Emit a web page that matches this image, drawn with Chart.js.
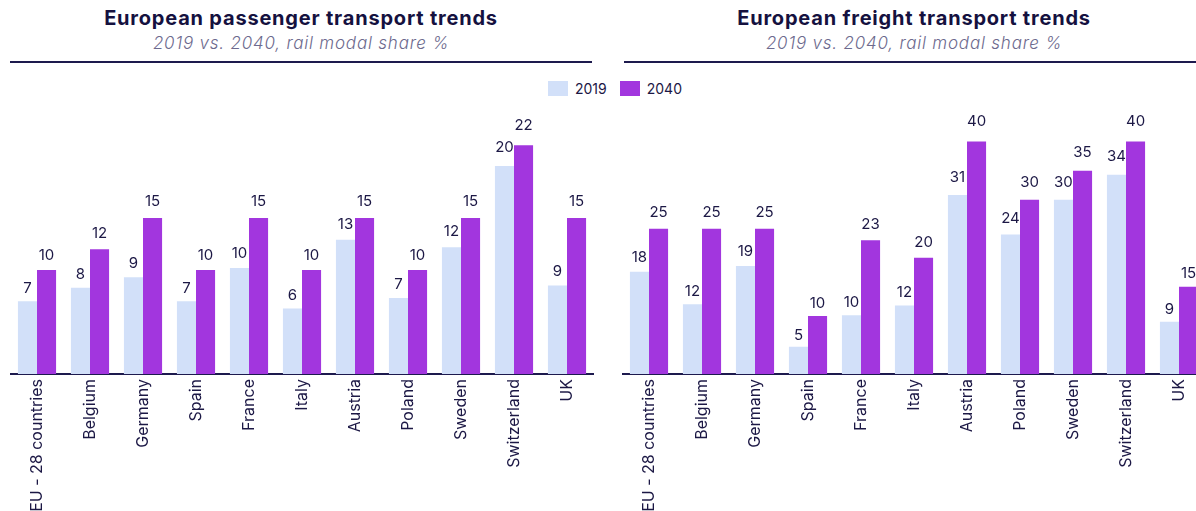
<!DOCTYPE html>
<html lang="en">
  <head>
    <meta charset="UTF-8" />
    <title>rail modal share</title>
    <script src="https://cdn.jsdelivr.net/npm/chart.js@4.4.0/dist/chart.umd.min.js"></script>
    <style>
      html, body { margin: 0; padding: 0; background: #fff; }
      #page { position: relative; width: 1196px; height: 511px; overflow: hidden; font-family: Inter, sans-serif; }
      .head { position: absolute; top: 5px; text-align: center; }
      .head h2 { margin: 0; font-size: 20px; font-weight: 700; color: #15113f; line-height: 27px; letter-spacing: 0.8px; }
      .head p { margin: 0; font-size: 17px; font-style: italic; font-weight: 300; color: #6d6a8e; line-height: 22px; letter-spacing: 0.8px; }
      .rule { position: absolute; top: 61px; height: 2px; background: #1d1a4e; }
      .legend { position: absolute; top: 80px; left: 548px; display: flex; align-items: center; font-size: 14px; color: #1c1845; }
      .legend span.box { display: inline-block; width: 20px; height: 15px; margin-right: 7px; }
      .legend span.item { display: flex; align-items: center; margin-right: 13px; }
      .chart-box { position: absolute; top: 0; width: 600px; height: 511px; }
    </style>
  </head>
  <body>
    <div id="page">
      <div class="head" style="left:10px;width:582px">
        <h2>European passenger transport trends</h2>
        <p>2019 vs. 2040, rail modal share %</p>
      </div>
      <div class="head" style="left:622px;width:584px">
        <h2>European freight transport trends</h2>
        <p>2019 vs. 2040, rail modal share %</p>
      </div>
      <div class="rule" style="left:10px;width:582px"></div>
      <div class="rule" style="left:624px;width:572px"></div>
      <div class="legend" id="legend"></div>
      <div class="chart-box" style="left:0"><canvas id="passenger"></canvas></div>
      <div class="chart-box" style="left:612px"><canvas id="freight"></canvas></div>
    </div>

    <script>
      //data
      const categories = ['EU - 28 countries', 'Belgium', 'Germany', 'Spain', 'France', 'Italy', 'Austria', 'Poland', 'Sweden', 'Switzerland', 'UK'];
      const seriesNames = ['2019', '2040'];
      const passenger2019 = [7, 8.3, 9.3, 7, 10.2, 6.3, 12.9, 7.3, 12.2, 20, 8.5];
      const passenger2040 = [10, 12, 15, 10, 15, 10, 15, 10, 15, 22, 15];
      const freight2019 = [17.6, 12, 18.6, 4.7, 10.1, 11.8, 30.8, 24, 30, 34.3, 9];
      const freight2040 = [25, 25, 25, 10, 23, 20, 40, 30, 35, 40, 15];

      const COLORS = ['#d2e0f9', '#a236de'];
      const INK = '#1c1845';

      //legend
      const legendEl = document.getElementById('legend');
      seriesNames.forEach(function (name, i) {
        const item = document.createElement('span');
        item.className = 'item';
        item.innerHTML = '<span class="box" style="background:' + COLORS[i] + '"></span>' + name;
        legendEl.appendChild(item);
      });

      //value labels above bars
      const valueLabels = {
        id: 'valueLabels',
        afterDatasetsDraw(chart) {
          const ctx = chart.ctx;
          const base = chart.scales.y.getPixelForValue(0);
          ctx.save();
          ctx.font = '15px Inter, sans-serif';
          ctx.fillStyle = INK;
          ctx.textAlign = 'center';
          ctx.textBaseline = 'alphabetic';
          chart.data.datasets.forEach(function (ds, di) {
            chart.getDatasetMeta(di).data.forEach(function (bar, i) {
              const h = base - bar.y;
              const gap = 5.5 + 0.042 * h;
              ctx.fillText(String(Math.round(ds.data[i])), bar.x, bar.y - gap);
            });
          });
          ctx.restore();
        }
      };

      function makeChart(id, v2019, v2040, yMax) {
        return new Chart(document.getElementById(id), {
          type: 'bar',
          data: {
            labels: categories,
            datasets: [
              { label: seriesNames[0], data: v2019, backgroundColor: COLORS[0] },
              { label: seriesNames[1], data: v2040, backgroundColor: COLORS[1] }
            ]
          },
          options: {
            responsive: true,
            maintainAspectRatio: false,
            animation: false,
            layout: { padding: { left: 10.5, right: 6.5, top: 100, bottom: 0 } },
            datasets: { bar: { categoryPercentage: 0.72, barPercentage: 1 } },
            plugins: { legend: { display: false }, tooltip: { enabled: false } },
            scales: {
              x: {
                grid: { display: false, drawTicks: false },
                border: { display: true, color: '#1d1a4e', width: 2 },
                ticks: {
                  color: INK,
                  font: { family: 'Inter, sans-serif', size: 16 },
                  minRotation: 90,
                  maxRotation: 90,
                  padding: 5,
                  autoSkip: false
                },
                afterFit: function (scale) { scale.height = 137; }
              },
              y: { display: false, min: 0, max: yMax }
            }
          },
          plugins: [valueLabels]
        });
      }

      //init
      makeChart('passenger', passenger2019, passenger2040, 26.35);
      makeChart('freight', freight2019, freight2040, 47.16);
    </script>
  </body>
</html>
